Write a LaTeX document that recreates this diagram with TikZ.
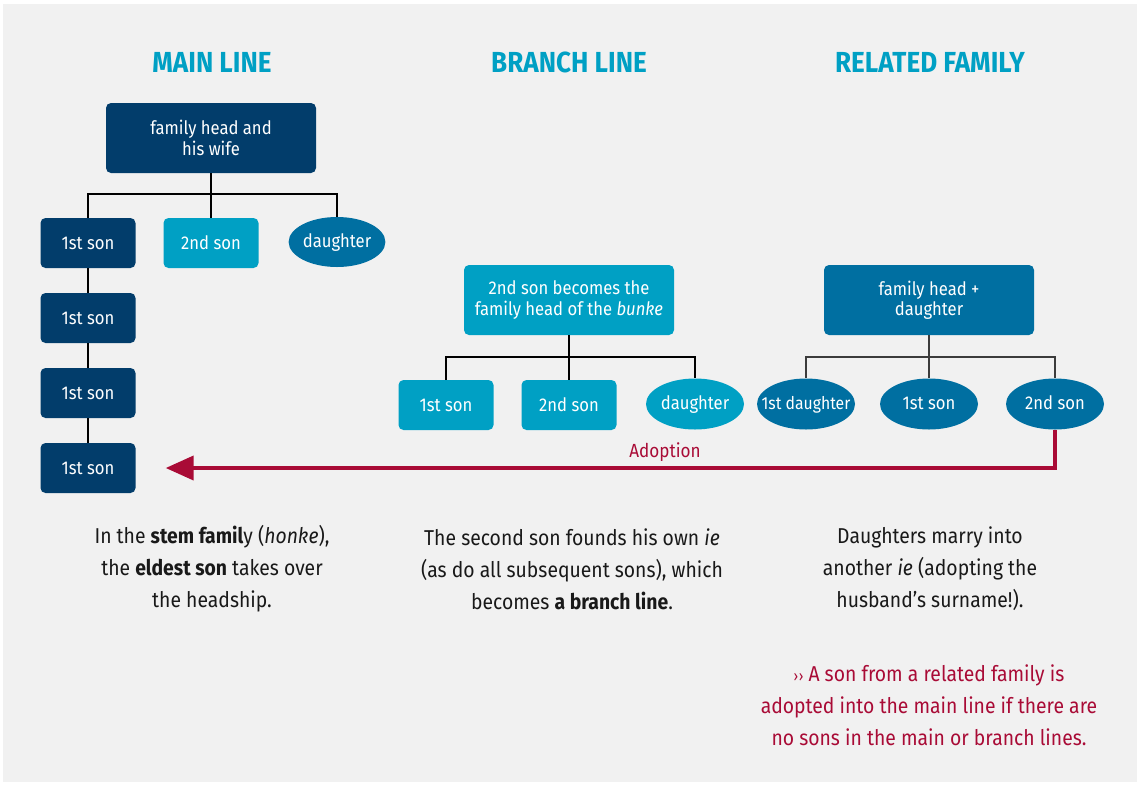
\documentclass[tikz,border=0pt]{standalone}
\usepackage{fontspec}
\setmainfont{Fira Sans}[FakeStretch=0.9]
\usetikzlibrary{shapes.geometric,arrows.meta,calc}

\definecolor{navy}{HTML}{023D6B}
\definecolor{cyanb}{HTML}{00A0C4}
\definecolor{midb}{HTML}{006FA1}
\definecolor{crim}{HTML}{A90B36}
\definecolor{bg}{HTML}{F1F1F1}
\definecolor{linegray}{HTML}{3C3C3C}

\tikzset{
  box/.style={rectangle, rounded corners=5pt, minimum width=95pt, minimum height=50pt,
    inner sep=0pt, text=white, font=\fontsize{18.5}{20.5}\selectfont, align=center},
  headbox/.style={box, minimum width=210pt, minimum height=70pt},
  oval/.style={ellipse, minimum width=98pt, minimum height=51pt, inner sep=0pt,
    text height=12pt, text depth=2pt,
    text=white, font=\fontsize{18.5}{20.5}\selectfont},
  title/.style={text=cyanb, font=\fontsize{29}{32}\selectfont\bfseries},
  note/.style={align=center, text=black!90, font=\fontsize{21.5}{32}\selectfont},
  tree/.style={draw=black, line width=2pt},
  thintree/.style={draw=linegray, line width=1.5pt},
  adopt/.style={draw=crim, line width=4pt, -{Triangle[length=28pt,width=24pt]}},
}

\begin{document}
\begin{tikzpicture}[x=1pt, y=-1pt]
  % page and panel background
  \useasboundingbox (0,0) rectangle (1140,785);
  \fill[white] (0,0) rectangle (1140,785);
  \fill[bg] (3,4) rectangle (1137,782);

  % column headings
  \node[title] (t1) at (212,62) {MAIN LINE};
  \node[title] (t2) at (569,62) {BRANCH LINE};
  \node[title] (t3) at (930,62) {RELATED FAMILY};

  % main line
  \node[headbox, fill=navy] (mh) at (211,138) {family head and\\his wife};
  \node[box, fill=navy] (m1) at (88,243) {1st son};
  \node[box, fill=cyanb] (ms2) at (211,243) {2nd son};
  \node[oval, fill=midb, minimum width=95pt, minimum height=50pt] (md) at (337,242) {daughter};
  \node[box, fill=navy] (m2) at (88,318) {1st son};
  \node[box, fill=navy] (m3) at (88,393) {1st son};
  \node[box, fill=navy] (m4) at (88,468) {1st son};

  \draw[tree] (mh.south) -- ++(0,21) coordinate (mj) -| (m1.north);
  \draw[tree] (mj) -| (md.north);
  \draw[tree] (mh.south) -- (ms2.north);
  \draw[line width=1.5pt] (m1.south) -- (m2.north);
  \draw[line width=1.5pt] (m2.south) -- (m3.north);
  \draw[line width=1.5pt] (m3.south) -- (m4.north);

  % branch line
  \node[headbox, fill=cyanb] (bh) at (569,300) {2nd son becomes the\\family head of the \textit{bunke}};
  \node[box, fill=cyanb] (b1) at (446,405) {1st son};
  \node[box, fill=cyanb] (b2) at (569,405) {2nd son};
  \node[oval, fill=cyanb] (bd) at (695,404) {daughter};

  \draw[tree] (bh.south) -- ++(0,22) coordinate (bj) -| (b1.north);
  \draw[tree] (bj) -| (bd.north);
  \draw[tree] (bh.south) -- (b2.north);

  % related family (the long label is allowed to fill its oval)
  \node[headbox, fill=midb] (rh) at (929,300) {family head +\\daughter};
  \node[oval, fill=midb] (r1) at (806,404) {\makebox[0pt]{\fontsize{17.5}{20}\selectfont 1st daughter}};
  \node[oval, fill=midb] (r2) at (929,404) {1st son};
  \node[oval, fill=midb] (r3) at (1055,404) {2nd son};

  \draw[thintree] (rh.south) -- ++(0,22) coordinate (rj) -| (r1.north);
  \draw[thintree] (rj) -| (r3.north);
  \draw[thintree] (rh.south) -- (r2.north);

  % adoption into the main line
  \draw[adopt] (r3.south) |- ([xshift=30pt]m4.east);
  \node[text=crim, font=\fontsize{19}{21}\selectfont] (adl) at (665,452) {Adoption};

  % explanations
  \node[note] (n1) at (212,569) {In the \textbf{stem famil}y (\textit{honke}),\\the \textbf{eldest son} takes over\\the headship.};
  \node[note] (n2) at (572,569) {The second son founds his own \textit{ie}\\(as do all subsequent sons), which\\becomes \textbf{a branch line}.};
  \node[note] (n3) at (930,569) {Daughters marry into\\another \textit{ie} (adopting the\\husband’s surname!).};
  \node[note, text=crim] (n4) at (929,705) {{\fontsize{15}{32}\selectfont ›\kern0.5pt›} A son from a related family is\\adopted into the main line if there are\\no sons in the main or branch lines.};
\end{tikzpicture}
\end{document}
